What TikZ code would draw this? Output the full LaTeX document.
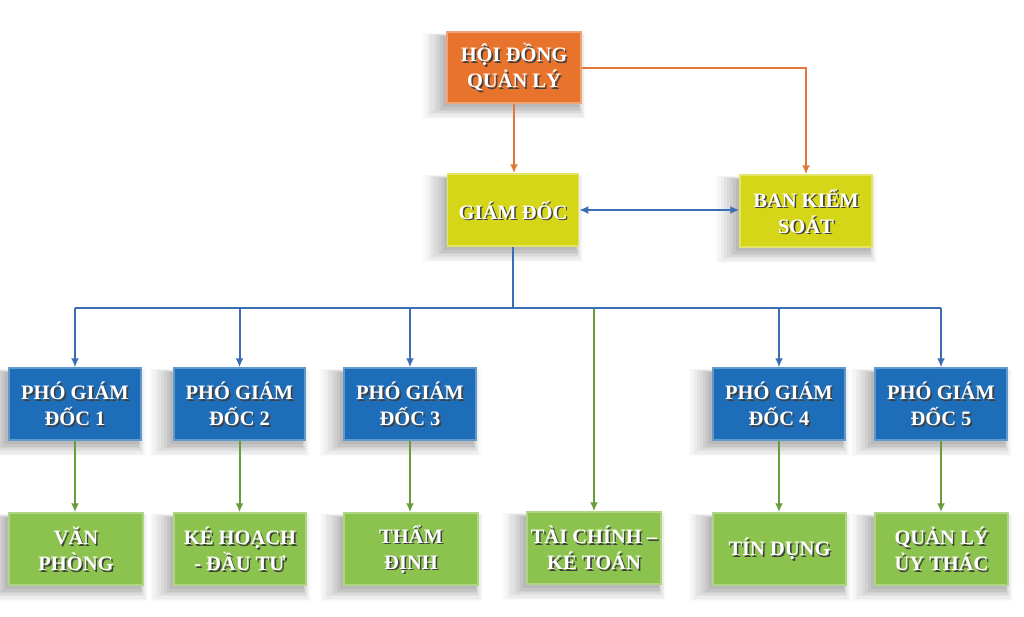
\documentclass[tikz,border=0pt]{standalone}
\usepackage{fontspec}
\setmainfont{Liberation Serif}
\usetikzlibrary{arrows.meta,shadows}
\definecolor{orF}{HTML}{E8732C}
\definecolor{yeF}{HTML}{D6D618}
\definecolor{blF}{HTML}{1E6DB8}
\definecolor{grF}{HTML}{8CC24E}
\definecolor{orL}{HTML}{E07838}
\definecolor{blL}{HTML}{3B6DB5}
\definecolor{grL}{HTML}{6A9C3A}
\tikzset{
  softshadow/.style={
    general shadow={shadow xshift=-8pt, shadow yshift=-7pt, shadow scale=1.22, fill=black, opacity=0.02},
    general shadow={shadow xshift=-8pt, shadow yshift=-7pt, shadow scale=1.19, fill=black, opacity=0.025},
    general shadow={shadow xshift=-7pt, shadow yshift=-7pt, shadow scale=1.16, fill=black, opacity=0.03},
    general shadow={shadow xshift=-7pt, shadow yshift=-6pt, shadow scale=1.13, fill=black, opacity=0.035},
    general shadow={shadow xshift=-6pt, shadow yshift=-6pt, shadow scale=1.10, fill=black, opacity=0.04},
    general shadow={shadow xshift=-5pt, shadow yshift=-5pt, shadow scale=1.07, fill=black, opacity=0.045},
    general shadow={shadow xshift=-4pt, shadow yshift=-5pt, shadow scale=1.04, fill=black, opacity=0.05},
    general shadow={shadow xshift=-3pt, shadow yshift=-4pt, shadow scale=1.01, fill=black, opacity=0.06}},
  box/.style={rectangle, minimum width=132pt, minimum height=72pt, align=center,
    text=white, font=\bfseries\fontsize{20.5}{26}\selectfont, line width=1.5pt, softshadow},
  orangebox/.style={box, fill=orF, draw=orF!65!white},
  yellowbox/.style={box, fill=yeF, draw=yeF!65!white},
  bluebox/.style={box, fill=blF, draw=blF!70!white},
  greenbox/.style={box, fill=grF, draw=grF!70!white},
  txtshadow/.style={rectangle, draw=none, fill=none, minimum width=0pt, minimum height=0pt,
    inner sep=0pt, align=center, text=black!75, font=\bfseries\fontsize{20.5}{26}\selectfont},
  ln/.style={line width=2pt},
  arr/.style={-{Latex[length=9pt,width=8pt]}},
  darr/.style={{Latex[length=9pt,width=8pt]}-{Latex[length=9pt,width=8pt]}},
}
\newcommand\bx[5]{\node[#4, path picture={\node[txtshadow] at ([xshift=1.6pt,yshift=-1.6pt]path picture bounding box.center) {#5};}] (#1) at (#2,#3) {#5};}
\begin{document}
\begin{tikzpicture}[x=1pt,y=-1pt]
\fill[white] (0,0) rectangle (1024,616);
\useasboundingbox (0,0) rectangle (1024,616);
% boxes
\bx{hdql}{514}{67.5}{orangebox, minimum width=134pt, minimum height=71pt}{HỘI ĐỒNG\\QUẢN LÝ}
\bx{gd}{513}{210}{yellowbox, minimum width=131pt}{GIÁM ĐỐC}
\bx{bks}{806}{211}{yellowbox}{BAN KIỂM\\SOÁT}
\bx{p1}{75}{404}{bluebox}{PHÓ GIÁM\\ĐỐC 1}
\bx{p2}{239.5}{404}{bluebox, minimum width=131pt}{PHÓ GIÁM\\ĐỐC 2}
\bx{p3}{410}{404}{bluebox}{PHÓ GIÁM\\ĐỐC 3}
\bx{p4}{779}{404}{bluebox}{PHÓ GIÁM\\ĐỐC 4}
\bx{p5}{941}{404}{bluebox}{PHÓ GIÁM\\ĐỐC 5}
\bx{b1}{76}{549}{greenbox, minimum width=134pt}{VĂN\\PHÒNG}
\bx{b2}{240}{549}{greenbox}{KÉ HOẠCH\\- ĐẦU TƯ}
\bx{b3}{411}{549}{greenbox, minimum width=134pt}{THẨM\\ĐỊNH}
\bx{tc}{594}{548}{greenbox, minimum width=134pt}{TÀI CHÍNH –\\KÉ TOÁN}
\bx{b4}{779.5}{549}{greenbox, minimum width=133pt}{TÍN DỤNG}
\bx{b5}{941.5}{549}{greenbox, minimum width=133pt}{QUẢN LÝ\\ỦY THÁC}
\coordinate (bus) at (0,308);
% connectors
\draw[ln, orL, arr] (hdql.south) -- (hdql.south |- gd.north);
\draw[ln, orL, arr] (hdql.east) -| (bks.north);
\draw[ln, blL, darr] (gd.east) -- (gd.east -| bks.west);
\draw[ln, blL] (gd.south) -- (gd.south |- bus);
\draw[ln, grL, arr] (tc.north |- bus) -- (tc.north);
\draw[ln, blL] (p1.north |- bus) -- (p5.north |- bus);
\foreach \p in {p1,p2,p3,p4,p5}{
  \draw[ln, blL, arr] (\p.north |- bus) -- (\p.north);
}
\foreach \a/\b in {p1/b1,p2/b2,p3/b3,p4/b4,p5/b5}{
  \draw[ln, grL, arr] (\a.south) -- (\a.south |- \b.north);
}
\end{tikzpicture}
\end{document}
